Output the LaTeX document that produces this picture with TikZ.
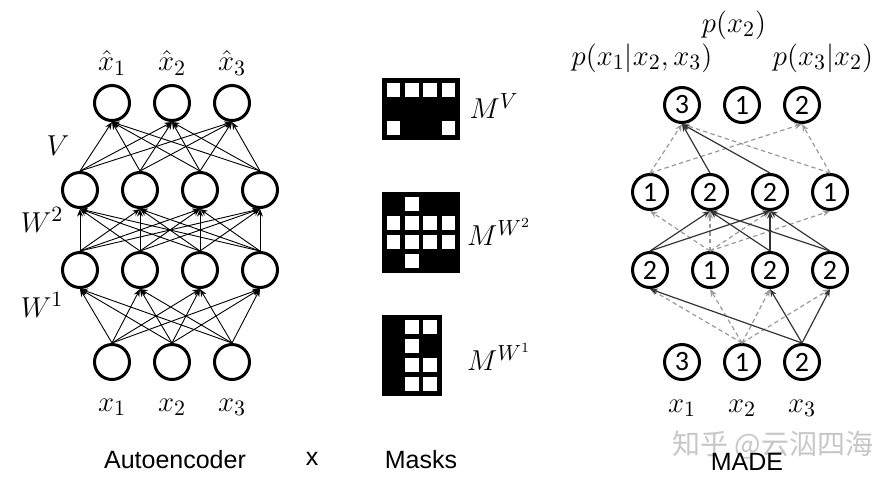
\documentclass[tikz,border=0pt]{standalone}
\usepackage{amsmath}
\usepackage{fontspec}
\setsansfont{Liberation Sans}
\newfontfamily\digitfont{Carlito}
\newfontfamily\cjkfont{Noto Sans CJK SC}
\usetikzlibrary{positioning,arrows.meta,calc}

\begin{document}
\begin{tikzpicture}[x=0.5pt,y=-0.5pt,
	unit/.style={circle,draw,line width=1.5pt,minimum size=17.5pt,inner sep=0pt,
		font=\digitfont\fontsize{14}{14}\selectfont},
	wire/.style={-{Stealth[length=3.8pt,width=3pt]},line width=0.45pt},
	kept/.style={wire,black!80,line width=0.6pt},
	masked/.style={wire,black!40,line width=0.6pt,dash pattern=on 2.2pt off 1.6pt},
	lbl/.style={font=\fontsize{15}{17}\selectfont},
	title/.style={font=\sffamily\fontsize{12.5}{14}\selectfont},
	node distance=30pt, on grid]
	\useasboundingbox (0,0) rectangle (892,482);
	%
	% autoencoder
	\node[unit] (i1) at (112,362) {};
	\node[unit,right=of i1] (i2) {};
	\node[unit,right=of i2] (i3) {};
	\node[unit] (h1) at (80,270) {};
	\node[unit,right=of h1] (h2) {};
	\node[unit,right=of h2] (h3) {};
	\node[unit,right=of h3] (h4) {};
	\node[unit] (g1) at (80,190) {};
	\node[unit,right=of g1] (g2) {};
	\node[unit,right=of g2] (g3) {};
	\node[unit,right=of g3] (g4) {};
	\node[unit] (o1) at (112,103) {};
	\node[unit,right=of o1] (o2) {};
	\node[unit,right=of o2] (o3) {};
	\foreach \a in {1,2,3} \foreach \b in {1,...,4} \draw[wire] (i\a.north) -- (h\b.south);
	\foreach \a in {1,...,4} \foreach \b in {1,...,4} \draw[wire] (h\a.north) -- (g\b.south);
	\foreach \a in {1,...,4} \foreach \b in {1,2,3} \draw[wire] (g\a.north) -- (o\b.south);
	\node[lbl,above=20pt of o1] (xh1) {$\hat{x}_1$};
	\node[lbl,above=20pt of o2] (xh2) {$\hat{x}_2$};
	\node[lbl,above=20pt of o3] (xh3) {$\hat{x}_3$};
	\node[lbl,below=22.5pt of i1] (x1) {$x_1$};
	\node[lbl,below=22.5pt of i2] (x2) {$x_2$};
	\node[lbl,below=22.5pt of i3] (x3) {$x_3$};
	\node[lbl] (v) at (58,146) {$V$};
	\node[lbl] (w2) at (42,220) {$W^2$};
	\node[lbl] (w1) at (42,305) {$W^1$};
	%
	% masks
	\fill (382,78) rectangle +(78,62);
	\foreach \c/\r in {1/1,2/1,3/1,4/1,1/3,4/3}
		\fill[white] ({386.8+18.3*(\c-1)},{83+19*(\r-1)}) rectangle +(13.5,14);
	\fill (382,192) rectangle +(78,81);
	\foreach \c/\r in {2/1,1/2,2/2,3/2,4/2,1/3,2/3,3/3,4/3,2/4}
		\fill[white] ({386.8+18.3*(\c-1)},{197+19*(\r-1)}) rectangle +(13.5,14);
	\fill (382,315) rectangle +(59.7,81);
	\foreach \c/\r in {2/1,3/1,2/2,2/3,3/3,2/4,3/4}
		\fill[white] ({386.8+18.3*(\c-1)},{320+19*(\r-1)}) rectangle +(13.5,14);
	\node[lbl] (mv) at (494,106) {$M^{V}$};
	\node[lbl] (mw2) at (499,232) {$M^{W^2}$};
	\node[lbl] (mw1) at (499,357) {$M^{W^1}$};
	%
	% made
	\node[unit] (a1) at (682,362) {3};
	\node[unit,right=of a1] (a2) {1};
	\node[unit,right=of a2] (a3) {2};
	\node[unit] (b1) at (650,270) {2};
	\node[unit,right=of b1] (b2) {1};
	\node[unit,right=of b2] (b3) {2};
	\node[unit,right=of b3] (b4) {2};
	\node[unit] (c1) at (650,192) {1};
	\node[unit,right=of c1] (c2) {2};
	\node[unit,right=of c2] (c3) {2};
	\node[unit,right=of c3] (c4) {1};
	\node[unit] (d1) at (682,105) {3};
	\node[unit,right=of d1] (d2) {1};
	\node[unit,right=of d2] (d3) {2};
	\foreach \b in {1,...,4} \draw[masked] (a2.north) -- (b\b.south);
	\foreach \b in {1,3,4} \draw[kept] (a3.north) -- (b\b.south);
	\foreach \b in {1,...,4} \draw[masked] (b2.north) -- (c\b.south);
	\foreach \a in {1,3,4} \foreach \b in {2,3} \draw[kept] (b\a.north) -- (c\b.south);
	\foreach \a in {1,4} \foreach \b in {1,3} \draw[masked] (c\a.north) -- (d\b.south);
	\foreach \a in {2,3} \draw[kept] (c\a.north) -- (d1.south);
	\node[lbl,below=23pt of a1] (y1) {$x_1$};
	\node[lbl,below=23pt of a2] (y2) {$x_2$};
	\node[lbl,below=23pt of a3] (y3) {$x_3$};
	\node[lbl] (p2) at (734,25) {$p(x_2)$};
	\node[lbl] (p1) at (642,58) {$p(x_1|x_2,x_3)$};
	\node[lbl] (p3) at (823,58) {$p(x_3|x_2)$};
	%
	\node[font=\cjkfont\fontsize{14}{14}\selectfont,text=black!22] (wm) at (773,445) {知乎 @云泅四海};
	\node[title] (ae) at (175,460) {Autoencoder};
	\node[title] (times) at (312,459) {x};
	\node[title] (mk) at (421,460) {Masks};
	\node[title] (md) at (747,462) {MADE};
\end{tikzpicture}
\end{document}
